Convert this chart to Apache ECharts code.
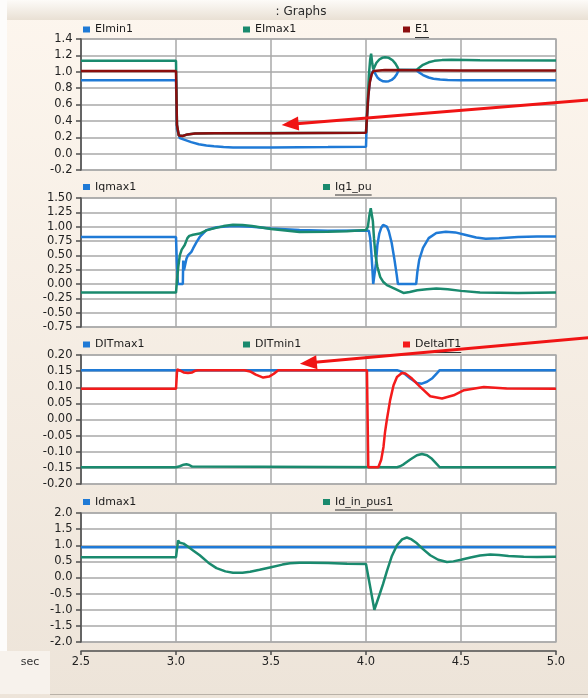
<!DOCTYPE html>
<html>
<head>
<meta charset="utf-8">
<script src="https://cdn.jsdelivr.net/npm/echarts@6/dist/echarts.min.js"></script>
<style>
  html, body { margin: 0; padding: 0; background: #f5eee5; }
  #chart { width: 588px; height: 698px; }
</style>
</head>
<body>
<div id="chart"></div>
<script>
// Four stacked time traces (seconds 2.5 .. 5.0) sharing one x-axis.
const X_MIN = 2.5, X_MAX = 5.0, X_STEP = 0.5;
const FONT = 'DejaVu Sans';
const BLUE = '#1f7ad6', GREEN = '#1a8a6e', DARK_RED = '#8b0e0e', RED = '#f41b1b';

// --- panel 1: EImin1 / EImax1 / E1 ---
const tEImin1 = [2.5, 3.0, 3.005, 3.02, 3.05, 3.08, 3.12, 3.16, 3.2, 3.25, 3.3, 3.5, 3.8, 4.0, 4.004, 4.012, 4.02, 4.03, 4.04, 4.05,
  4.06, 4.075, 4.09, 4.105, 4.12, 4.135, 4.15, 4.162, 4.172, 4.264, 4.28, 4.3, 4.33, 4.355, 4.39, 4.43, 4.5, 4.7, 5.0];
const vEImin1 = [0.895, 0.895, 0.3, 0.19, 0.165, 0.14, 0.115, 0.1, 0.09, 0.08, 0.075, 0.075, 0.08, 0.085, 0.4, 0.7, 0.88, 0.98, 1.02, 0.97,
  0.93, 0.9, 0.883, 0.88, 0.885, 0.9, 0.93, 0.97, 1.02, 1.02, 0.99, 0.96, 0.93, 0.915, 0.905, 0.9, 0.897, 0.897, 0.897];
const tEImax1 = [2.5, 3.0, 3.005, 3.015, 3.022, 3.035, 3.06, 3.1, 3.2, 4.0, 4.008, 4.015, 4.022, 4.027, 4.033, 4.038, 4.045, 4.055, 4.07, 4.085,
  4.1, 4.12, 4.14, 4.155, 4.165, 4.172, 4.264, 4.28, 4.3, 4.33, 4.36, 4.4, 4.45, 4.6, 5.0];
const vEImax1 = [1.135, 1.135, 0.35, 0.22, 0.2, 0.215, 0.235, 0.245, 0.25, 0.255, 0.6, 0.95, 1.15, 1.22, 1.1, 1.03, 1.06, 1.11, 1.15, 1.17,
  1.178, 1.17, 1.14, 1.1, 1.06, 1.02, 1.02, 1.05, 1.085, 1.115, 1.133, 1.142, 1.146, 1.14, 1.137];
const tE1 = [2.5, 3.0, 3.005, 3.015, 3.022, 3.035, 3.06, 3.1, 3.2, 3.5, 4.0, 4.004, 4.012, 4.02, 4.03, 4.04, 4.05, 4.1, 4.5, 5.0];
const vE1 = [1.01, 1.01, 0.35, 0.22, 0.2, 0.215, 0.235, 0.245, 0.25, 0.25, 0.255, 0.4, 0.7, 0.87, 0.97, 1.01, 1.025, 1.02, 1.015, 1.015];

// --- panel 2: Iqmax1 / Iq1_pu ---
const tIqmax1 = [2.5, 3.0, 3.004, 3.01, 3.036, 3.038, 3.042, 3.048, 3.055, 3.063, 3.072, 3.081, 3.09, 3.108, 3.125, 3.16, 3.213, 3.3, 3.4, 3.5,
  3.65, 3.8, 4.0, 4.015, 4.022, 4.028, 4.033, 4.038, 4.046, 4.052, 4.06, 4.07, 4.08, 4.09, 4.1, 4.11, 4.12, 4.135, 4.15, 4.162,
  4.168, 4.264, 4.27, 4.28, 4.3, 4.33, 4.37, 4.42, 4.47, 4.52, 4.58, 4.63, 4.7, 4.8, 4.9, 5.0];
const vIqmax1 = [0.82, 0.82, 0.4, 0.0, 0.0, 0.41, 0.24, 0.26, 0.44, 0.5, 0.52, 0.56, 0.62, 0.73, 0.82, 0.94, 0.99, 1.01, 1.0, 0.97,
  0.94, 0.93, 0.935, 0.93, 0.8, 0.55, 0.3, 0.0, 0.0, 0.35, 0.68, 0.88, 0.98, 1.03, 1.035, 1.0, 0.92, 0.72, 0.42, 0.15,
  0.0, 0.0, 0.2, 0.42, 0.63, 0.8, 0.89, 0.91, 0.9, 0.86, 0.81, 0.79, 0.8, 0.82, 0.83, 0.83];
const tIq1 = [2.5, 3.0, 3.005, 3.012, 3.02, 3.03, 3.046, 3.06, 3.07, 3.09, 3.125, 3.16, 3.2, 3.25, 3.3, 3.35, 3.4, 3.5, 3.65, 3.8,
  3.9, 4.0, 4.01, 4.018, 4.025, 4.03, 4.036, 4.042, 4.05, 4.06, 4.075, 4.09, 4.11, 4.15, 4.197, 4.23, 4.27, 4.32, 4.37, 4.43,
  4.5, 4.6, 4.8, 5.0];
const vIq1 = [-0.15, -0.15, 0.05, 0.3, 0.5, 0.6, 0.68, 0.8, 0.84, 0.86, 0.88, 0.935, 0.97, 1.01, 1.035, 1.03, 1.01, 0.96, 0.905, 0.91,
  0.92, 0.94, 1.0, 1.2, 1.32, 1.3, 1.1, 0.8, 0.5, 0.3, 0.12, 0.04, -0.02, -0.08, -0.155, -0.14, -0.11, -0.09, -0.08, -0.09,
  -0.12, -0.15, -0.155, -0.15];

// --- panel 3: DITmax1 / DITmin1 / DeltaIT1 ---
const tDITmax1 = [2.5, 4.163, 4.18, 4.198, 4.233, 4.268, 4.294, 4.321, 4.347, 4.374, 4.388, 5.0];
const vDITmax1 = [0.153, 0.153, 0.15, 0.144, 0.127, 0.113, 0.111, 0.117, 0.127, 0.144, 0.153, 0.153];
const tDITmin1 = [2.5, 3.0, 3.02, 3.04, 3.055, 3.07, 3.085, 3.095, 4.163, 4.18, 4.198, 4.233, 4.268, 4.294, 4.321, 4.347, 4.374, 4.388, 5.0];
const vDITmin1 = [-0.148, -0.148, -0.145, -0.14, -0.139, -0.141, -0.146, -0.148, -0.148, -0.145, -0.139, -0.124, -0.111, -0.107, -0.111, -0.122, -0.139, -0.148, -0.148];
const tDeltaIT1 = [2.5, 3.0, 3.006, 3.02, 3.04, 3.063, 3.085, 3.1, 3.116, 3.36, 3.39, 3.42, 3.459, 3.49, 3.515, 3.538, 4.005, 4.012, 4.065,
  4.08, 4.092, 4.1, 4.11, 4.127, 4.145, 4.163, 4.189, 4.207, 4.242, 4.285, 4.338, 4.4, 4.461, 4.516, 4.62, 4.74, 5.0];
const vDeltaIT1 = [0.095, 0.095, 0.155, 0.152, 0.146, 0.144, 0.146, 0.151, 0.153, 0.153, 0.149, 0.139, 0.13, 0.133, 0.142, 0.153, 0.153, -0.148, -0.148,
  -0.125, -0.085, -0.04, 0.0, 0.06, 0.106, 0.132, 0.144, 0.143, 0.127, 0.101, 0.072, 0.065, 0.075, 0.091, 0.101, 0.096, 0.095];

// --- panel 4: Idmax1 / Id_in_pus1 ---
const tIdmax1 = [2.5, 5.0];
const vIdmax1 = [0.94, 0.94];
const tIdIn = [2.5, 3.0, 3.011, 3.02, 3.028, 3.04, 3.06, 3.09, 3.125, 3.17, 3.213, 3.26, 3.3, 3.35, 3.39, 3.44, 3.5, 3.56, 3.6, 3.65,
  3.7, 3.8, 3.9, 4.0, 4.044, 4.07, 4.09, 4.11, 4.135, 4.163, 4.19, 4.215, 4.24, 4.268, 4.3, 4.338, 4.38, 4.426, 4.46, 4.5,
  4.55, 4.6, 4.654, 4.7, 4.75, 4.83, 4.9, 5.0];
const vIdIn = [0.63, 0.63, 1.15, 1.08, 1.12, 1.05, 0.97, 0.84, 0.69, 0.46, 0.29, 0.19, 0.15, 0.15, 0.18, 0.24, 0.32, 0.4, 0.44, 0.46,
  0.46, 0.45, 0.43, 0.42, -1.0, -0.55, -0.2, 0.2, 0.65, 1.0, 1.18, 1.24, 1.18, 1.06, 0.88, 0.69, 0.55, 0.48, 0.5, 0.55,
  0.62, 0.68, 0.71, 0.7, 0.67, 0.64, 0.635, 0.64];

// red annotation arrows, anchored in data space of panel 1 and panel 3: [tail, tip]
const ARROW_1 = [[5.235, 0.668], [3.556, 0.35]];
const ARROW_2 = [[5.235, 0.257], [3.652, 0.173]];

const pairs = (t, v) => t.map((x, i) => [x, v[i]]);

const PANELS = [
  { top: 39, height: 131, legendY: 31, yMin: -0.2, yMax: 1.4, yStep: 0.2, digits: 1,
    lines: [['EImin1', tEImin1, vEImin1, BLUE], ['EImax1', tEImax1, vEImax1, GREEN], ['E1', tE1, vE1, DARK_RED]] },
  { top: 198, height: 129, legendY: 188.5, yMin: -0.75, yMax: 1.5, yStep: 0.25, digits: 2,
    lines: [['Iqmax1', tIqmax1, vIqmax1, BLUE], ['Iq1_pu', tIq1, vIq1, GREEN]] },
  { top: 355, height: 129, legendY: 346, yMin: -0.2, yMax: 0.2, yStep: 0.05, digits: 2,
    lines: [['DITmax1', tDITmax1, vDITmax1, BLUE], ['DITmin1', tDITmin1, vDITmin1, GREEN], ['DeltaIT1', tDeltaIT1, vDeltaIT1, RED]] },
  { top: 513, height: 129, legendY: 503.5, yMin: -2, yMax: 2, yStep: 0.5, digits: 1,
    lines: [['Idmax1', tIdmax1, vIdmax1, BLUE], ['Id_in_pus1', tIdIn, vIdIn, GREEN]] },
];

const AXIS_DARK = '#4d4d4d';
const GRID_LINE = '#a9a9a9';
const fmt = (v, d) => (Math.abs(v) < 1e-9 ? 0 : v).toFixed(d);

const grid = [], xAxis = [], yAxis = [], series = [], legend = [], underlined = [];
PANELS.forEach((p, k) => {
  const last = k === PANELS.length - 1;
  grid.push({ left: 81, width: 475, top: p.top, height: p.height, show: true,
    backgroundColor: '#ffffff', borderColor: '#b3b3b3', borderWidth: 1.5 });
  xAxis.push({
    gridIndex: k, type: 'value', min: X_MIN, max: X_MAX, interval: X_STEP, offset: last ? 9 : 0,
    axisLine: { show: last, onZero: false, lineStyle: { color: AXIS_DARK, width: 1.5 } },
    axisTick: { show: last, length: 4, lineStyle: { color: AXIS_DARK, width: 1.5 } },
    axisLabel: { show: last, margin: 5, fontFamily: FONT, fontSize: 11.5, color: '#222', formatter: (v) => fmt(v, 1) },
    splitLine: { show: true, lineStyle: { color: GRID_LINE, width: 1.5 } },
  });
  yAxis.push({
    gridIndex: k, type: 'value', min: p.yMin, max: p.yMax, interval: p.yStep,
    axisLine: { show: true, onZero: false, lineStyle: { color: AXIS_DARK, width: 1.5 } },
    axisTick: { show: true, length: 5, lineStyle: { color: AXIS_DARK, width: 1.5 } },
    axisLabel: { margin: 8.5, fontFamily: FONT, fontSize: 11.5, color: '#222', formatter: (v) => fmt(v, p.digits) },
    splitLine: { show: true, lineStyle: { color: GRID_LINE, width: 1.5 } },
  });
  const n = p.lines.length;
  p.lines.forEach(([name, t, v, color], i) => {
    series.push({
      name, type: 'line', xAxisIndex: k, yAxisIndex: k, data: pairs(t, v),
      showSymbol: false, symbol: 'none', color, lineStyle: { color, width: 2.5 },
      z: 2 + i, animation: false,
    });
    const left = 83 + i * 480 / n;
    legend.push({
      data: [name], left, top: p.legendY - 7, padding: 0, icon: 'rect', itemWidth: 7, itemHeight: 6,
      selectedMode: false, textStyle: { fontFamily: FONT, fontSize: 11, color: '#1c1c1c' },
    });
    // the last legend entry of every panel is shown underlined
    if (i === n - 1) underlined.push({ name, x: left + 12, y: p.legendY + 6.5 });
  });
});

const chart = echarts.init(document.getElementById('chart'), null, { renderer: 'canvas', width: 588, height: 698 });
chart.setOption({ animation: false, backgroundColor: 'transparent', grid, xAxis, yAxis, series, legend });

// frame decorations: window background, title bar, "sec" unit label
const ctx = document.createElement('canvas').getContext('2d');
ctx.font = `11px "${FONT}"`;
const elements = [
  { type: 'rect', z: -100, shape: { x: 0, y: 0, width: 588, height: 698 },
    style: { fill: new echarts.graphic.LinearGradient(0, 0, 0, 1, [{ offset: 0, color: '#fdf6ee' }, { offset: 1, color: '#ede4d9' }]) } },
  { type: 'rect', z: -99, shape: { x: 0, y: 0, width: 7, height: 651 }, style: { fill: '#fdfcfb' } },
  { type: 'rect', z: -99, shape: { x: 0, y: 651, width: 50, height: 43 }, style: { fill: '#f7f2ec' } },
  { type: 'line', z: -99, shape: { x1: 50, y1: 694.5, x2: 588, y2: 694.5 }, style: { stroke: '#b9b1a7', lineWidth: 1 } },
  { type: 'rect', z: -99, shape: { x: 7, y: 0, width: 581, height: 20 },
    style: { fill: new echarts.graphic.LinearGradient(0, 0, 0, 1, [{ offset: 0, color: '#fdfbf8' }, { offset: 1, color: '#e9e0d4' }]) } },
  { type: 'text', z: 10, style: { text: ': Graphs', x: 301, y: 11.5, font: `12px "${FONT}"`, fill: '#2a2a2a',
    align: 'center', verticalAlign: 'middle', textAlign: 'center', textVerticalAlign: 'middle' } },
  { type: 'text', z: 10, style: { text: 'sec', x: 30, y: 662, font: `11px "${FONT}"`, fill: '#333',
    align: 'center', verticalAlign: 'middle', textAlign: 'center', textVerticalAlign: 'middle' } },
];
underlined.forEach((u) => {
  const w = ctx.measureText(u.name).width;
  elements.push({ type: 'line', z: 10, shape: { x1: u.x, y1: u.y, x2: u.x + w, y2: u.y }, style: { stroke: '#333', lineWidth: 1 } });
});

// annotation arrows: shaft + filled head, converted from data space to pixels
function arrow([tail, tip], gridIndex) {
  const a = chart.convertToPixel({ xAxisIndex: gridIndex, yAxisIndex: gridIndex }, tail);
  const b = chart.convertToPixel({ xAxisIndex: gridIndex, yAxisIndex: gridIndex }, tip);
  const dx = b[0] - a[0], dy = b[1] - a[1], len = Math.hypot(dx, dy);
  const ux = dx / len, uy = dy / len, nx = -uy, ny = ux;
  const headLen = 17, headHalf = 7;
  const bx = b[0] - ux * headLen, by = b[1] - uy * headLen;
  return [
    { type: 'line', z: 50, shape: { x1: a[0], y1: a[1], x2: bx + ux * 2, y2: by + uy * 2 }, style: { stroke: '#f01414', lineWidth: 3 } },
    { type: 'polygon', z: 50, shape: { points: [b, [bx + nx * headHalf, by + ny * headHalf], [bx - nx * headHalf, by - ny * headHalf]] },
      style: { fill: '#f01414' } },
  ];
}
elements.push(...arrow(ARROW_1, 0), ...arrow(ARROW_2, 2));

chart.setOption({ graphic: { elements } });
</script>
</body>
</html>
